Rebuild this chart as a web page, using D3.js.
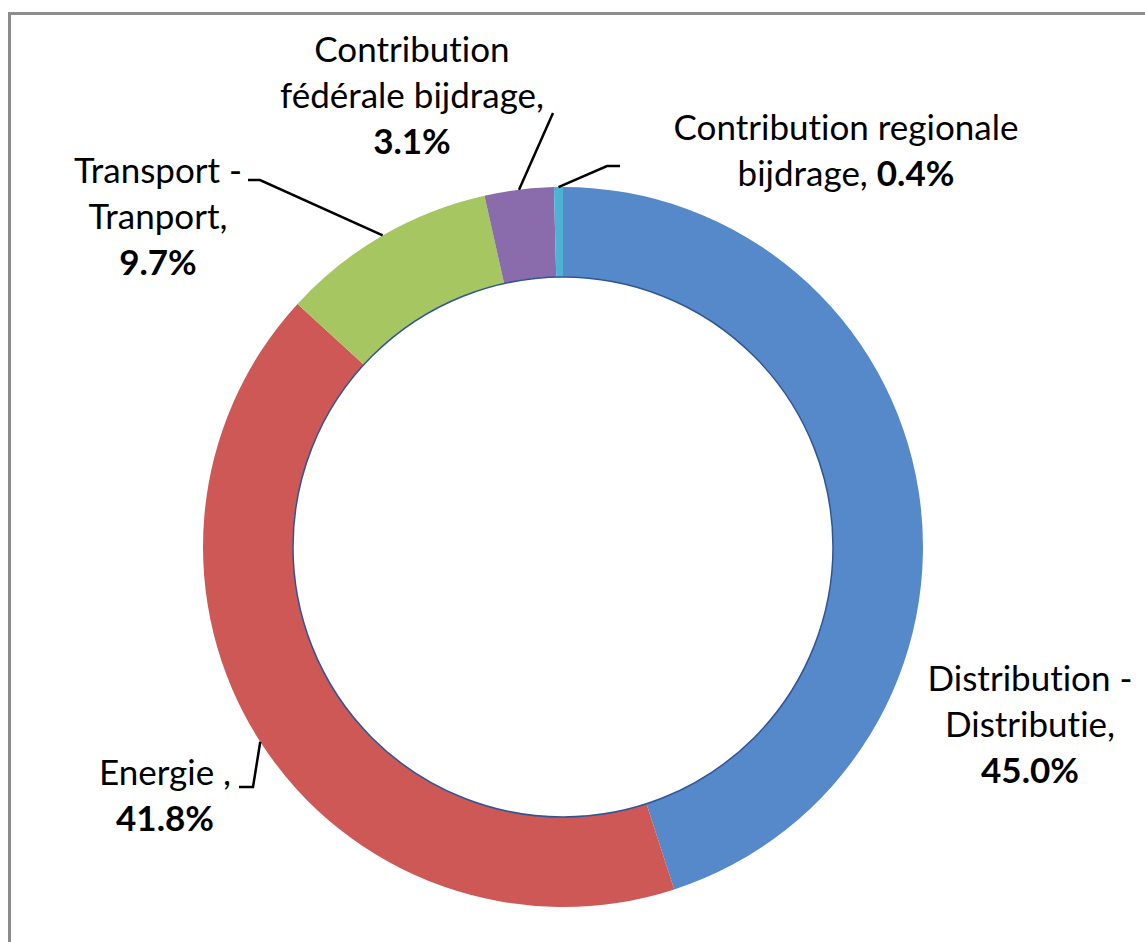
<!DOCTYPE html>
<html>
<head>
<meta charset="utf-8">
<script src="https://cdn.jsdelivr.net/npm/d3@7"></script>
<style>
  html, body { margin: 0; padding: 0; background: #fff; }
  svg { display: block; }
  text { font-family: Lato, "Open Sans", sans-serif; fill: #000; font-variant-ligatures: none; font-feature-settings: "liga" 0, "clig" 0; }
</style>
</head>
<body>
<svg id="chart" width="1145" height="942"></svg>
<script>
// ---- data ----
const categories = [
  "Distribution - Distributie",
  "Energie",
  "Transport - Tranport",
  "Contribution fédérale bijdrage",
  "Contribution regionale bijdrage"
];
const values = [45.0, 41.8, 9.7, 3.1, 0.4];
const colors = ["#5689C9", "#CD5855", "#A6C661", "#8A6BAB", "#4DB3D4"];
// label text: lines of plain text; the percentage is appended in bold to the last line
const labelLines = [
  ["Distribution -", "Distributie,", ""],
  ["Energie ,", ""],
  ["Transport -", "Tranport,", ""],
  ["Contribution", "fédérale bijdrage,", ""],
  ["Contribution regionale", "bijdrage, "]
];

// ---- layout (positions kept apart from data) ----
const cx = 563, cy = 547, rOuter = 360, rInner = 270;
const fontSize = 35, lineH = 46;
const labelPos = [
  { x: 1030, y: 691, leader: null },
  { x: 165, y: 785, leader: { elbowX: 253, endX: 239, endY: 787 } },
  { x: 158, y: 183, leader: { elbowX: 260, endX: 248, endY: 180 } },
  { x: 412, y: 62,  leader: { elbowX: 553, endX: 553, endY: 113 } },
  { x: 846, y: 140, leader: { elbowX: 607, endX: 620, endY: 166 } }
];

const svg = d3.select("#chart");

// frame
svg.append("rect")
  .attr("x", 9.5).attr("y", 13.5)
  .attr("width", 1160).attr("height", 960)
  .attr("fill", "#fff")
  .attr("stroke", "#8C8C8C")
  .attr("stroke-width", 3);

const data = categories.map((c, i) => ({ name: c, value: values[i], color: colors[i], lines: labelLines[i], pos: labelPos[i] }));

const pie = d3.pie().value(d => d.value).sort(null);
const arcs = pie(data);
const arc = d3.arc().innerRadius(rInner).outerRadius(rOuter);

const g = svg.append("g").attr("transform", `translate(${cx},${cy})`);

g.selectAll("path.slice")
  .data(arcs)
  .join("path")
  .attr("class", "slice")
  .attr("d", arc)
  .attr("fill", d => d.data.color);

// thin inner outline
g.append("circle")
  .attr("r", rInner)
  .attr("fill", "#fff")
  .attr("stroke", "#2F5597")
  .attr("stroke-width", 1.5);

// leader lines
arcs.forEach(a => {
  const L = a.data.pos.leader;
  if (!L) return;
  const mid = (a.startAngle + a.endAngle) / 2;
  const sx = cx + rOuter * Math.sin(mid);
  const sy = cy - rOuter * Math.cos(mid);
  svg.append("polyline")
    .attr("points", `${sx},${sy} ${L.elbowX},${L.endY} ${L.endX},${L.endY}`)
    .attr("fill", "none")
    .attr("stroke", "#000")
    .attr("stroke-width", 2.5);
});

// labels
arcs.forEach(a => {
  const d = a.data;
  const pct = d3.format(".1f")(d.value) + "%";
  const t = svg.append("text")
    .attr("text-anchor", "middle")
    .attr("font-size", fontSize);
  d.lines.forEach((line, i) => {
    const ts = t.append("tspan")
      .attr("x", d.pos.x)
      .attr("y", d.pos.y + i * lineH);
    if (line) ts.append("tspan").text(line);
    if (i === d.lines.length - 1) {
      ts.append("tspan").attr("font-weight", "bold").text(pct);
    }
  });
});
</script>
</body>
</html>
